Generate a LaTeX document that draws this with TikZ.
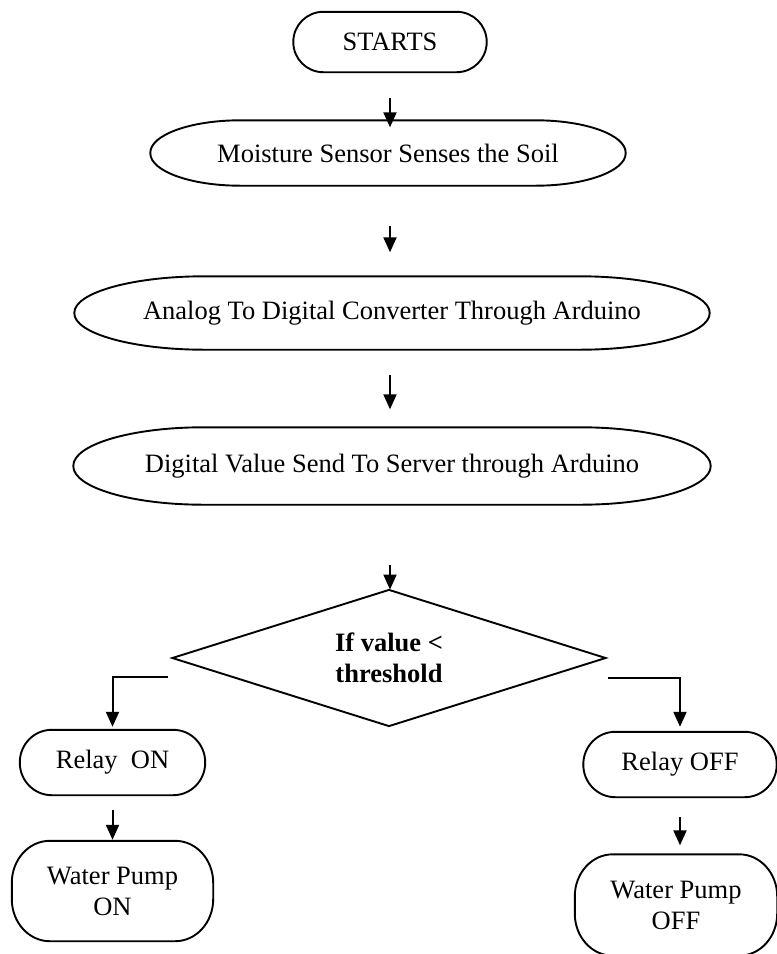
\documentclass[tikz,border=0pt]{standalone}
\usepackage{fontspec}
\setmainfont{Liberation Serif}
\usetikzlibrary{shapes.geometric,arrows.meta}
\tikzset{
  boxtext/.style={rectangle, inner sep=0pt, align=center, font=\fontsize{26.5}{31}\selectfont},
  boxline/.style={line width=1.9pt, line join=round},
  arr/.style={line width=2pt, -{Triangle[length=15pt,width=13pt]}},
  decision/.style={diamond, draw, line width=1.9pt, inner sep=0pt, aspect=3.17,
    minimum width=434pt, minimum height=137pt, align=center,
    font=\fontsize{26.5}{31}\selectfont\bfseries}
}
% name, x, y(px from top), w, h, rx, ry, text
\newcommand\pillbox[8]{%
  \node[boxtext, minimum width=#4pt, minimum height=#5pt] (#1) at (#2,-#3) {#8};
  \draw[boxline] ([xshift=#6pt]#1.north west) -- ([xshift=-#6pt]#1.north east)
    arc[start angle=90, end angle=0, x radius=#6pt, y radius=#7pt]
    -- ([yshift=#7pt]#1.south east)
    arc[start angle=0, end angle=-90, x radius=#6pt, y radius=#7pt]
    -- ([xshift=#6pt]#1.south west)
    arc[start angle=270, end angle=180, x radius=#6pt, y radius=#7pt]
    -- ([yshift=-#7pt]#1.north west)
    arc[start angle=180, end angle=90, x radius=#6pt, y radius=#7pt] -- cycle;
}
\begin{document}
\begin{tikzpicture}[x=1pt,y=1pt]
\useasboundingbox (0,0) rectangle (777,-954);
\fill[white] (0,0) rectangle (777,-954);

\pillbox{start}{390}{42}{193}{60}{30}{30}{STARTS}
\pillbox{moist}{388}{153}{475}{65}{90}{32.5}{Moisture Sensor Senses the Soil}
\pillbox{adc}{392}{313}{635}{73}{130}{36.5}{Analog To Digital Converter Through Arduino}
\pillbox{dig}{392}{466}{637}{77}{130}{38.5}{Digital Value Send To Server through Arduino}

\node[decision] (dec) at (389,-658) {If value <\\threshold};

\pillbox{relon}{112.5}{762.5}{185}{65}{32}{32.5}{Relay~ ON}
\pillbox{pumpon}{112.5}{891}{201}{100}{38}{42}{Water Pump\\ON}
\pillbox{reloff}{680}{764.5}{193}{65}{32}{32.5}{Relay OFF}
\pillbox{pumpoff}{676}{905}{202}{101}{38}{42}{Water Pump\\OFF}

% main column arrows
\draw[arr, shorten <=26pt, shorten >=-7pt] (start.south) -- (start.south |- moist.north);
\draw[arr, shorten <=40pt, shorten >=24pt] (moist.south -| start.south) -- (start.south |- adc.north);
\draw[arr, shorten <=25pt, shorten >=18pt] (adc.south -| start.south) -- (start.south |- dig.north);
\draw[arr, shorten <=60pt, shorten >=-1pt] (dig.south -| start.south) -- (start.south |- dec.north);

% branches
\coordinate (lstart) at ([shift={(-3,-19)}]dec.west);
\coordinate (rstart) at ([shift={(1,-20)}]dec.east);
\draw[arr, shorten >=3pt] (lstart) -| (relon.north);
\draw[arr, shorten >=5pt] (rstart) -| (reloff.north);

\draw[arr, shorten <=15pt, shorten >=1pt] (relon.south) -- (pumpon.north);
\draw[arr, shorten <=20pt, shorten >=9pt] (reloff.south) -- (reloff.south |- pumpoff.north);
\end{tikzpicture}
\end{document}
